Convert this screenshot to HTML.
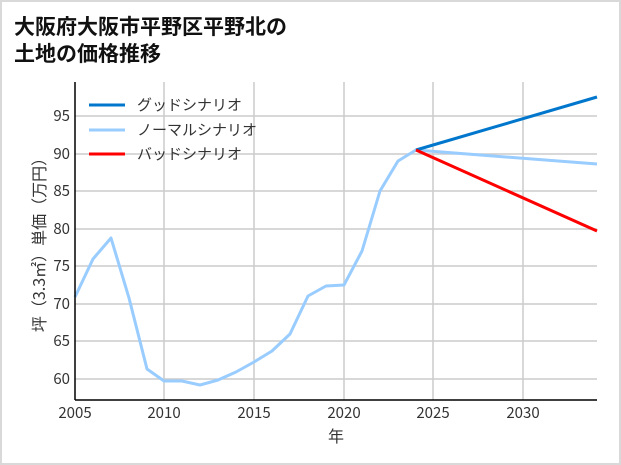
<!DOCTYPE html><html><head><meta charset="utf-8"><style>
html,body{margin:0;padding:0;background:#fff}
svg{display:block}
text{font-family:"Noto Sans CJK JP",sans-serif}
</style></head><body>
<svg width="621" height="465" viewBox="0 0 621 465" xmlns="http://www.w3.org/2000/svg">
<rect x="1" y="1" width="619" height="463" fill="#fff" stroke="#d9d9d9" stroke-width="2"/>
<text x="14" y="34" font-size="21" font-weight="bold" fill="#111">大阪府大阪市平野区平野北の</text>
<text x="14" y="61" font-size="21" font-weight="bold" fill="#111">土地の価格推移</text>
<g stroke="#cccccc" stroke-width="1.5">
<line x1="164" y1="82" x2="164" y2="400"/><line x1="254" y1="82" x2="254" y2="400"/>
<line x1="344" y1="82" x2="344" y2="400"/><line x1="433" y1="82" x2="433" y2="400"/>
<line x1="523" y1="82" x2="523" y2="400"/>
<line x1="75" y1="116" x2="597" y2="116"/><line x1="75" y1="154" x2="597" y2="154"/>
<line x1="75" y1="191" x2="597" y2="191"/><line x1="75" y1="229" x2="597" y2="229"/>
<line x1="75" y1="266" x2="597" y2="266"/><line x1="75" y1="304" x2="597" y2="304"/>
<line x1="75" y1="341" x2="597" y2="341"/><line x1="75" y1="379" x2="597" y2="379"/>
</g>
<g fill="none" stroke-width="3" stroke-linejoin="round">
<polyline stroke="#99ccff" points="75,297 93,259 111,238 129,298 147,369 164,381 182,381 200,385 218,380 236,372 254,362 272,351 290,334 308,296 326,286 344,285 362,251 380,191 398,161 416,150 597,164"/>
<polyline stroke="#0077cc" points="416,150 597,97"/>
<polyline stroke="#ff0000" points="416,150 597,231"/>
</g>
<line x1="75" y1="82" x2="75" y2="400" stroke="#000" stroke-width="1.5"/>
<line x1="75" y1="400" x2="597" y2="400" stroke="#000" stroke-width="1.5"/>
<g font-size="15" fill="#333" text-anchor="end">
<text x="70" y="121">95</text><text x="70" y="159">90</text><text x="70" y="196">85</text>
<text x="70" y="234">80</text><text x="70" y="271">75</text><text x="70" y="309">70</text>
<text x="70" y="346">65</text><text x="70" y="384">60</text>
</g>
<g font-size="15" fill="#333" text-anchor="middle">
<text x="75" y="418">2005</text><text x="164" y="418">2010</text><text x="254" y="418">2015</text>
<text x="344" y="418">2020</text><text x="433" y="418">2025</text><text x="523" y="418">2030</text>
<text x="336" y="442" font-size="16">年</text>
</g>
<text transform="translate(45,241) rotate(-90)" font-size="16" fill="#333" text-anchor="middle">坪（3.3㎡）単価（万円）</text>
<g stroke-width="3">
<line x1="89" y1="105" x2="125" y2="105" stroke="#0077cc"/>
<line x1="89" y1="130" x2="125" y2="130" stroke="#99ccff"/>
<line x1="89" y1="154" x2="125" y2="154" stroke="#ff0000"/>
</g>
<g font-size="15" fill="#333">
<text x="137" y="110">グッドシナリオ</text>
<text x="137" y="135">ノーマルシナリオ</text>
<text x="137" y="159">バッドシナリオ</text>
</g>
</svg>
</body></html>
